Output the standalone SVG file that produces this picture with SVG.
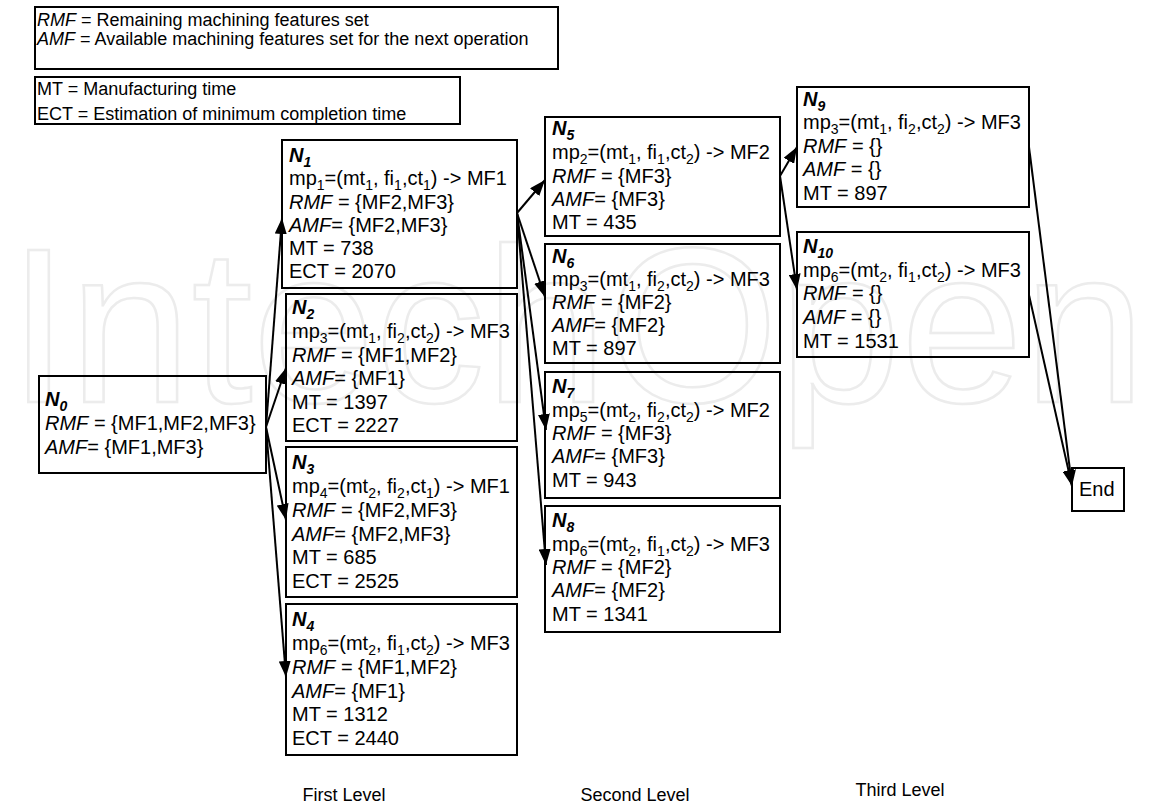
<svg xmlns="http://www.w3.org/2000/svg" width="1150" height="806" viewBox="0 0 1150 806">
<defs>
<marker id="ah" markerUnits="userSpaceOnUse" markerWidth="16" markerHeight="12" refX="16" refY="6" orient="auto">
<path d="M0,0 L16,6 L0,12 z" fill="#000"/>
</marker>
<style>
text{font-family:"Liberation Sans",Arial,sans-serif;fill:#000}
.t{font-size:20px}
.lg{font-size:18px}
.lab{font-size:20px;font-weight:bold;font-style:italic}
.i{font-style:italic}
.s{font-size:14px;baseline-shift:-5px}
.ls{font-size:14px;baseline-shift:-5px}
.box{fill:none;stroke:#000;stroke-width:2}
.c line{stroke:#000;stroke-width:2;marker-end:url(#ah)}
.wm{font-family:"Liberation Sans",Arial,sans-serif;font-size:220px;fill:none;stroke:#ececec;stroke-width:2.5}
.lvl{font-size:18px;text-anchor:middle}
</style>
</defs>
<rect width="1150" height="806" fill="#fff"/>
<text class="wm" x="8" y="402">IntechOpen</text>

<g id="legend1">
<rect class="box" x="35" y="7" width="523" height="62"/>
<text class="lg" x="37" y="26"><tspan class="i">RMF</tspan> = Remaining machining features set</text>
<text class="lg" x="37" y="45"><tspan class="i">AMF</tspan> = Available machining features set for the next operation</text>
</g>
<g id="legend2">
<rect class="box" x="35" y="77" width="425" height="47"/>
<text class="lg" x="37" y="95">MT = Manufacturing time</text>
<text class="lg" x="37" y="120">ECT = Estimation of minimum completion time</text>
</g>

<g class="c" id="connectors">
<line x1="266" y1="427" x2="282" y2="218"/>
<line x1="266" y1="427" x2="286" y2="368"/>
<line x1="266" y1="427" x2="286" y2="520"/>
<line x1="266" y1="427" x2="286" y2="677"/>
<line x1="517" y1="213" x2="545" y2="180"/>
<line x1="517" y1="213" x2="545" y2="297"/>
<line x1="517" y1="213" x2="546" y2="430"/>
<line x1="517" y1="213" x2="546" y2="565"/>
<line x1="780" y1="176" x2="797" y2="147"/>
<line x1="780" y1="176" x2="797" y2="290"/>
<line x1="1029" y1="147" x2="1072" y2="486"/>
<line x1="1029" y1="295" x2="1072" y2="486"/>
</g>

<g id="N0">
<rect class="box" x="39" y="376" width="227" height="97"/>
<text class="lab" x="45" y="406">N<tspan class="ls">0</tspan></text>
<text class="t" x="45" y="430"><tspan class="i">RMF</tspan> = {MF1,MF2,MF3}</text>
<text class="t" x="45" y="454"><tspan class="i">AMF</tspan>= {MF1,MF3}</text>
</g>

<g id="N1">
<rect class="box" x="282" y="140" width="235" height="148"/>
<text class="lab" x="289" y="162">N<tspan class="ls">1</tspan></text>
<text class="t" x="289" y="185">mp<tspan class="s">1</tspan><tspan>=(mt</tspan><tspan class="s">1</tspan><tspan>, fi</tspan><tspan class="s">1</tspan><tspan>,ct</tspan><tspan class="s">1</tspan><tspan>) -&gt; MF1</tspan></text>
<text class="t" x="289" y="209"><tspan class="i">RMF</tspan> = {MF2,MF3}</text>
<text class="t" x="289" y="232"><tspan class="i">AMF</tspan>= {MF2,MF3}</text>
<text class="t" x="289" y="255">MT = 738</text>
<text class="t" x="289" y="278">ECT = 2070</text>
</g>

<g id="N2">
<rect class="box" x="286" y="294" width="231" height="147"/>
<text class="lab" x="292" y="314">N<tspan class="ls">2</tspan></text>
<text class="t" x="292" y="338">mp<tspan class="s">3</tspan><tspan>=(mt</tspan><tspan class="s">1</tspan><tspan>, fi</tspan><tspan class="s">2</tspan><tspan>,ct</tspan><tspan class="s">2</tspan><tspan>) -&gt; MF3</tspan></text>
<text class="t" x="292" y="362"><tspan class="i">RMF</tspan> = {MF1,MF2}</text>
<text class="t" x="292" y="385"><tspan class="i">AMF</tspan>= {MF1}</text>
<text class="t" x="292" y="409">MT = 1397</text>
<text class="t" x="292" y="432">ECT = 2227</text>
</g>

<g id="N3">
<rect class="box" x="286" y="447" width="231" height="150"/>
<text class="lab" x="292" y="469">N<tspan class="ls">3</tspan></text>
<text class="t" x="292" y="493">mp<tspan class="s">4</tspan><tspan>=(mt</tspan><tspan class="s">2</tspan><tspan>, fi</tspan><tspan class="s">2</tspan><tspan>,ct</tspan><tspan class="s">1</tspan><tspan>) -&gt; MF1</tspan></text>
<text class="t" x="292" y="517"><tspan class="i">RMF</tspan> = {MF2,MF3}</text>
<text class="t" x="292" y="541"><tspan class="i">AMF</tspan>= {MF2,MF3}</text>
<text class="t" x="292" y="564">MT = 685</text>
<text class="t" x="292" y="588">ECT = 2525</text>
</g>

<g id="N4">
<rect class="box" x="286" y="604" width="231" height="151"/>
<text class="lab" x="292" y="626">N<tspan class="ls">4</tspan></text>
<text class="t" x="292" y="650">mp<tspan class="s">6</tspan><tspan>=(mt</tspan><tspan class="s">2</tspan><tspan>, fi</tspan><tspan class="s">1</tspan><tspan>,ct</tspan><tspan class="s">2</tspan><tspan>) -&gt; MF3</tspan></text>
<text class="t" x="292" y="674"><tspan class="i">RMF</tspan> = {MF1,MF2}</text>
<text class="t" x="292" y="698"><tspan class="i">AMF</tspan>= {MF1}</text>
<text class="t" x="292" y="721">MT = 1312</text>
<text class="t" x="292" y="745">ECT = 2440</text>
</g>

<g id="N5">
<rect class="box" x="545" y="117" width="235" height="119"/>
<text class="lab" x="552" y="135">N<tspan class="ls">5</tspan></text>
<text class="t" x="552" y="159">mp<tspan class="s">2</tspan><tspan>=(mt</tspan><tspan class="s">1</tspan><tspan>, fi</tspan><tspan class="s">1</tspan><tspan>,ct</tspan><tspan class="s">2</tspan><tspan>) -&gt; MF2</tspan></text>
<text class="t" x="552" y="183"><tspan class="i">RMF</tspan> = {MF3}</text>
<text class="t" x="552" y="206"><tspan class="i">AMF</tspan>= {MF3}</text>
<text class="t" x="552" y="229">MT = 435</text>
</g>

<g id="N6">
<rect class="box" x="545" y="244" width="235" height="119"/>
<text class="lab" x="552" y="263">N<tspan class="ls">6</tspan></text>
<text class="t" x="552" y="286">mp<tspan class="s">3</tspan><tspan>=(mt</tspan><tspan class="s">1</tspan><tspan>, fi</tspan><tspan class="s">2</tspan><tspan>,ct</tspan><tspan class="s">2</tspan><tspan>) -&gt; MF3</tspan></text>
<text class="t" x="552" y="309"><tspan class="i">RMF</tspan> = {MF2}</text>
<text class="t" x="552" y="332"><tspan class="i">AMF</tspan>= {MF2}</text>
<text class="t" x="552" y="355">MT = 897</text>
</g>

<g id="N7">
<rect class="box" x="545" y="372" width="235" height="126"/>
<text class="lab" x="552" y="393">N<tspan class="ls">7</tspan></text>
<text class="t" x="552" y="417">mp<tspan class="s">5</tspan><tspan>=(mt</tspan><tspan class="s">2</tspan><tspan>, fi</tspan><tspan class="s">2</tspan><tspan>,ct</tspan><tspan class="s">2</tspan><tspan>) -&gt; MF2</tspan></text>
<text class="t" x="552" y="440"><tspan class="i">RMF</tspan> = {MF3}</text>
<text class="t" x="552" y="463"><tspan class="i">AMF</tspan>= {MF3}</text>
<text class="t" x="552" y="487">MT = 943</text>
</g>

<g id="N8">
<rect class="box" x="545" y="506" width="235" height="126"/>
<text class="lab" x="552" y="527">N<tspan class="ls">8</tspan></text>
<text class="t" x="552" y="551">mp<tspan class="s">6</tspan><tspan>=(mt</tspan><tspan class="s">2</tspan><tspan>, fi</tspan><tspan class="s">1</tspan><tspan>,ct</tspan><tspan class="s">2</tspan><tspan>) -&gt; MF3</tspan></text>
<text class="t" x="552" y="574"><tspan class="i">RMF</tspan> = {MF2}</text>
<text class="t" x="552" y="597"><tspan class="i">AMF</tspan>= {MF2}</text>
<text class="t" x="552" y="621">MT = 1341</text>
</g>

<g id="N9">
<rect class="box" x="797" y="87" width="232" height="120"/>
<text class="lab" x="803" y="106">N<tspan class="ls">9</tspan></text>
<text class="t" x="803" y="129">mp<tspan class="s">3</tspan><tspan>=(mt</tspan><tspan class="s">1</tspan><tspan>, fi</tspan><tspan class="s">2</tspan><tspan>,ct</tspan><tspan class="s">2</tspan><tspan>) -&gt; MF3</tspan></text>
<text class="t" x="803" y="153"><tspan class="i">RMF</tspan> = {}</text>
<text class="t" x="803" y="176"><tspan class="i">AMF</tspan> = {}</text>
<text class="t" x="803" y="200">MT = 897</text>
</g>

<g id="N10">
<rect class="box" x="797" y="232" width="232" height="125"/>
<text class="lab" x="803" y="253">N<tspan class="ls">10</tspan></text>
<text class="t" x="803" y="277">mp<tspan class="s">6</tspan><tspan>=(mt</tspan><tspan class="s">2</tspan><tspan>, fi</tspan><tspan class="s">1</tspan><tspan>,ct</tspan><tspan class="s">2</tspan><tspan>) -&gt; MF3</tspan></text>
<text class="t" x="803" y="300"><tspan class="i">RMF</tspan> = {}</text>
<text class="t" x="803" y="324"><tspan class="i">AMF</tspan> = {}</text>
<text class="t" x="803" y="348">MT = 1531</text>
</g>

<g id="End">
<rect class="box" x="1072" y="468" width="52" height="43"/>
<text class="t" x="1079" y="496">End</text>
</g>

<g id="levels">
<text class="lvl" x="344" y="801">First Level</text>
<text class="lvl" x="635" y="801">Second  Level</text>
<text class="lvl" x="900" y="796">Third  Level</text>
</g>
</svg>
